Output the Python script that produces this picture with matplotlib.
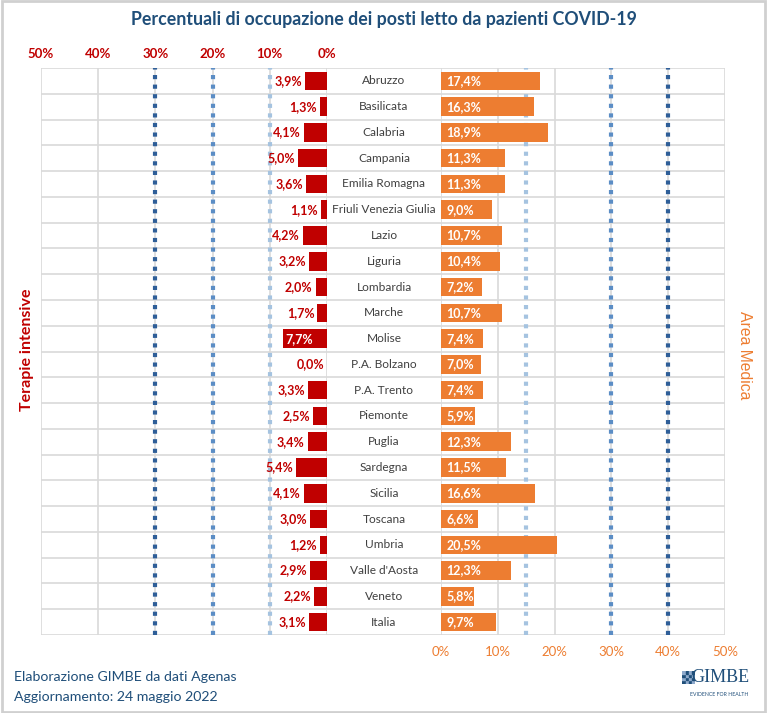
import matplotlib
matplotlib.use("Agg")
import matplotlib.pyplot as plt
from matplotlib.patches import Rectangle
import numpy as np

plt.rcParams['font.family'] = ['Lato', 'DejaVu Sans']

regions = ["Abruzzo", "Basilicata", "Calabria", "Campania", "Emilia Romagna",
           "Friuli Venezia Giulia", "Lazio", "Liguria", "Lombardia", "Marche",
           "Molise", "P.A. Bolzano", "P.A. Trento", "Piemonte", "Puglia",
           "Sardegna", "Sicilia", "Toscana", "Umbria", "Valle d'Aosta",
           "Veneto", "Italia"]
ti = [3.9, 1.3, 4.1, 5.0, 3.6, 1.1, 4.2, 3.2, 2.0, 1.7, 7.7, 0.0, 3.3, 2.5,
      3.4, 5.4, 4.1, 3.0, 1.2, 2.9, 2.2, 3.1]
am = [17.4, 16.3, 18.9, 11.3, 11.3, 9.0, 10.7, 10.4, 7.2, 10.7, 7.4, 7.0, 7.4,
      5.9, 12.3, 11.5, 16.6, 6.6, 20.5, 12.3, 5.8, 9.7]
ticks = [0, 10, 20, 30, 40, 50]
tick_labels = ["0%", "10%", "20%", "30%", "40%", "50%"]
ti_thresholds = [10, 20, 30]
am_thresholds = [15, 30, 40]

RED = "#C00000"
ORANGE = "#ED7D31"
NAVY = "#1F4E79"
GRID = "#D9D9D9"
DOT_COLORS = ["#A5C3E0", "#5B8DC5", "#2E5E98"]

W, H = 767, 713
fig = plt.figure(figsize=(W / 100, H / 100), dpi=100)

def fx(px):
    return px / W

def fy(py):
    return 1 - py / H

top, bot = 68, 635
xl0, xl1 = 41, 327
xr0, xr1 = 441, 725
axL = fig.add_axes([fx(xl0), fy(bot), fx(xl1 - xl0), fy(top) - fy(bot)])
axM = fig.add_axes([fx(xl1), fy(bot), fx(xr0 - xl1), fy(top) - fy(bot)])
axR = fig.add_axes([fx(xr0), fy(bot), fx(xr1 - xr0), fy(top) - fy(bot)])

n = len(regions)
y = np.arange(n)
for ax in (axL, axM, axR):
    ax.set_ylim(n - 0.5, -0.5)
    for s in ax.spines.values():
        s.set_visible(False)
    ax.tick_params(left=False, labelleft=False, bottom=False, labelbottom=False)
    for b in np.arange(-0.5, n + 0.5, 1):
        ax.axhline(b, color=GRID, lw=1.2, zorder=0)

axM.set_xlim(0, 1)
axL.set_xlim(50, 0)
axR.set_xlim(0, 50)

for ax in (axL, axR):
    for t in ticks:
        ax.axvline(t, color=GRID, lw=1.2, zorder=0)

for t, c in zip(ti_thresholds, DOT_COLORS):
    axL.axvline(t, color=c, lw=3, ls=(0, (1, 1.3)), zorder=1)
for t, c in zip(am_thresholds, DOT_COLORS):
    axR.axvline(t, color=c, lw=3, ls=(0, (1, 1.3)), zorder=1)

axL.barh(y, ti, height=0.72, color=RED, zorder=2)
axR.barh(y, am, height=0.72, color=ORANGE, zorder=2)

for i, v in enumerate(ti):
    lab = f"{v:.1f}%".replace(".", ",")
    if v >= 7:
        axL.text(v - 0.4, i, lab, ha="left", va="center", color="white",
                 fontsize=9, fontweight="bold", zorder=3)
    else:
        axL.text(v + 0.5, i, lab, ha="right", va="center", color=RED,
                 fontsize=9, fontweight="bold", zorder=3)

for i, v in enumerate(am):
    lab = f"{v:.1f}%".replace(".", ",")
    axR.text(0.9, i, lab, ha="left", va="center", color="white",
             fontsize=9, fontweight="bold", zorder=3)

for i, r in enumerate(regions):
    axM.text(0.5, i, r, ha="center", va="center", color="#404040", fontsize=8.6)

# tick labels
for t, lab in zip(ticks, tick_labels):
    axL.text(t, -1.05, lab, ha="center", va="center", color=RED,
             fontsize=9.5, fontweight="bold", clip_on=False)
    axR.text(t, n - 0.5 + 0.65, lab, ha="center", va="center", color=ORANGE,
             fontsize=9.5, clip_on=False)

fig.text(fx(384), fy(19), "Percentuali di occupazione dei posti letto da pazienti COVID-19",
         ha="center", va="center", color=NAVY, fontsize=12.8, fontweight="bold")
fig.text(fx(27), fy(350), "Terapie intensive", rotation=90, ha="center", va="center",
         color=RED, fontsize=11.5, fontweight="bold")
fig.text(fx(745), fy(355), "Area Medica", rotation=-90, ha="center", va="center",
         color=ORANGE, fontsize=11.3, family=["Liberation Sans", "DejaVu Sans"])

fig.text(fx(14), fy(677), "Elaborazione GIMBE da dati Agenas", ha="left", va="center",
         color=NAVY, fontsize=10.2)
fig.text(fx(14), fy(697), "Aggiornamento: 24 maggio 2022", ha="left", va="center",
         color=NAVY, fontsize=10.2)

# logo
fig.text(fx(749), fy(677), "GIMBE", ha="right", va="center", color="#1F4E79",
         fontsize=13, family=["Liberation Serif", "DejaVu Serif"])
fig.text(fx(748), fy(694), "EVIDENCE FOR HEALTH", ha="right", va="center",
         color="#1F4E79", fontsize=3.7)
ax_logo = fig.add_axes([fx(682), fy(684), fx(13), fy(671) - fy(684)])
ax_logo.set_xlim(0, 4)
ax_logo.set_ylim(0, 4)
ax_logo.axis("off")
for gi in range(4):
    for gj in range(4):
        col = "#1F4E79" if (gi + gj) % 2 == 0 else "#8FAACC"
        ax_logo.add_patch(Rectangle((gi + 0.1, gj + 0.1), 0.8, 0.8, color=col))

# outer frame
fig.patches.append(Rectangle((0.002, 0.002), 0.996, 0.996, transform=fig.transFigure,
                             fill=False, edgecolor="#D0D0D0", lw=2))

fig.savefig("out.png", dpi=100)
